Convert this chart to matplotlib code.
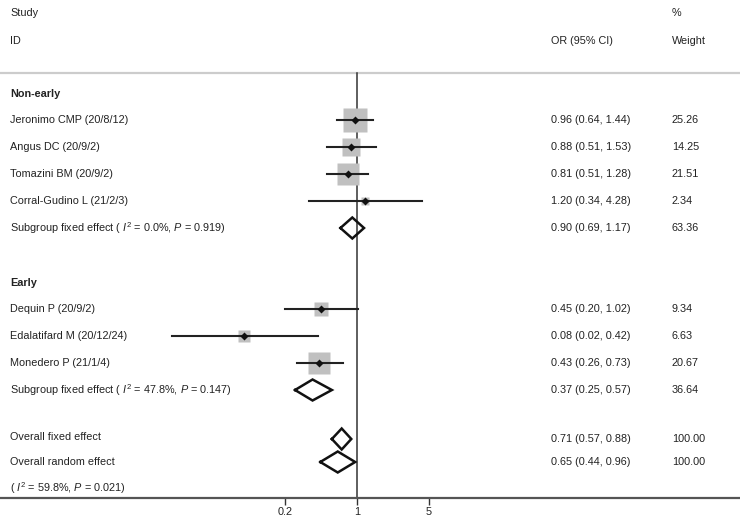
import numpy as np
import matplotlib
matplotlib.use('Agg')
from matplotlib import pyplot as plt

plt.rcParams['font.family'] = ['Liberation Sans', 'DejaVu Sans']
plt.rcParams['mathtext.fontset'] = 'custom'
plt.rcParams['mathtext.rm'] = 'Liberation Sans'
plt.rcParams['mathtext.it'] = 'Liberation Sans:italic'

# Study level data
studies = ['Jeronimo CMP (20/8/12)', 'Angus DC (20/9/2)', 'Tomazini BM (20/9/2)', 'Corral-Gudino L (21/2/3)',
           'Dequin P (20/9/2)', 'Edalatifard M (20/12/24)', 'Monedero P (21/1/4)']
or_est = [0.96, 0.88, 0.81, 1.20, 0.45, 0.08, 0.43]
ci_low = [0.64, 0.51, 0.51, 0.34, 0.20, 0.016, 0.26]
ci_high = [1.44, 1.53, 1.28, 4.28, 1.02, 0.42, 0.73]
or_text = ['0.96 (0.64, 1.44)', '0.88 (0.51, 1.53)', '0.81 (0.51, 1.28)', '1.20 (0.34, 4.28)',
           '0.45 (0.20, 1.02)', '0.08 (0.02, 0.42)', '0.43 (0.26, 0.73)']
weights = [25.26, 14.25, 21.51, 2.34, 9.34, 6.63, 20.67]
study_rows = [120, 147, 174, 201, 309, 336, 363]

# Pooled estimates (subgroups, then overall)
pooled_labels = ['Subgroup fixed effect ( $I^2$ = 0.0%, $P$ = 0.919)',
                 'Subgroup fixed effect ( $I^2$ = 47.8%, $P$ = 0.147)',
                 'Overall fixed effect', 'Overall random effect']
pooled_est = [0.90, 0.37, 0.71, 0.65]
pooled_low = [0.69, 0.25, 0.57, 0.44]
pooled_high = [1.17, 0.57, 0.88, 0.96]
pooled_text = ['0.90 (0.69, 1.17)', '0.37 (0.25, 0.57)', '0.71 (0.57, 0.88)', '0.65 (0.44, 0.96)']
pooled_weight = ['63.36', '36.64', '100.00', '100.00']
pooled_rows = [228, 390, 439, 462]

group_labels = ['Non-early', 'Early']
group_rows = [94, 283]

tick_vals = [0.2, 1, 5]
tick_labels = ['0.2', '1', '5']

W, H = 740, 518
fig = plt.figure(figsize=(W / 100, H / 100), dpi=100)
axis_y = 498
ax = fig.add_axes([0, (H - axis_y) / H, 1, axis_y / H])
ax.set_xscale('log')
# 1 sits at x=357 px, ~44.7 px per ln unit
px_per_ln = 44.7
ax.set_xlim(np.exp(-357 / px_per_ln), np.exp((W - 357) / px_per_ln))
ax.set_ylim(axis_y, 0)
for s in ['top', 'left', 'right']:
    ax.spines[s].set_visible(False)
ax.spines['bottom'].set_color('#555555')
ax.spines['bottom'].set_linewidth(1.6)
ax.set_yticks([])
ax.set_xticks(tick_vals)
ax.set_xticklabels(tick_labels)
ax.minorticks_off()
ax.tick_params(axis='x', direction='out', length=5, width=1, color='#333333', labelsize=7.8,
               labelcolor='#222222', pad=1.5)

txt = dict(fontsize=7.8, color='#222222', va='center')
tr = ax.get_yaxis_transform()  # x in axes fraction, y in data


def xf(px):
    return px / W


# Header
ax.text(xf(10), 13, 'Study', transform=tr, **txt)
ax.text(xf(10), 41, 'ID', transform=tr, **txt)
ax.text(xf(551), 41, 'OR (95% CI)', transform=tr, **txt)
ax.text(xf(672), 13, '%', transform=tr, **txt)
ax.text(xf(672), 41, 'Weight', transform=tr, **txt)
ax.plot([0, 1], [73, 73], transform=tr, color='#cccccc', lw=1.6, clip_on=False)

# Null line
ax.plot([1, 1], [73, axis_y], color='#333333', lw=1.1)

for lab, y in zip(group_labels, group_rows):
    ax.text(xf(10), y, lab, transform=tr, fontweight='bold', **txt)

# Studies
for i in range(len(studies)):
    y = study_rows[i]
    side_px = 4.4 * np.sqrt(weights[i]) + 1.0
    ax.plot(or_est[i], y, marker='s', ms=side_px * 0.72, color='#c0c0c0', mec='none', zorder=2)
    ax.plot([ci_low[i], ci_high[i]], [y, y], color='#222222', lw=1.5, zorder=3)
    ax.plot(or_est[i], y, marker='D', ms=3.6, color='#111111', mec='none', zorder=4)
    ax.text(xf(10), y, studies[i], transform=tr, **txt)
    ax.text(xf(551), y, or_text[i], transform=tr, **txt)
    ax.text(xf(672), y, '%.2f' % weights[i], transform=tr, **txt)

# Pooled diamonds
half_h = 10.5
for i in range(len(pooled_est)):
    y = pooled_rows[i]
    xs = [pooled_low[i], pooled_est[i], pooled_high[i], pooled_est[i], pooled_low[i]]
    ys = [y, y - half_h, y, y + half_h, y]
    ax.plot(xs, ys, color='#111111', lw=1.8, zorder=3, solid_joinstyle='miter')
    ty = y - 2 if i == 2 else y
    ax.text(xf(10), ty, pooled_labels[i], transform=tr, **txt)
    ax.text(xf(551), y, pooled_text[i], transform=tr, **txt)
    ax.text(xf(672), y, pooled_weight[i], transform=tr, **txt)

ax.text(xf(10), 488, '( $I^2$ = 59.8%, $P$ = 0.021)', transform=tr, **txt)

fig.savefig('out.png', dpi=100, facecolor='white')
